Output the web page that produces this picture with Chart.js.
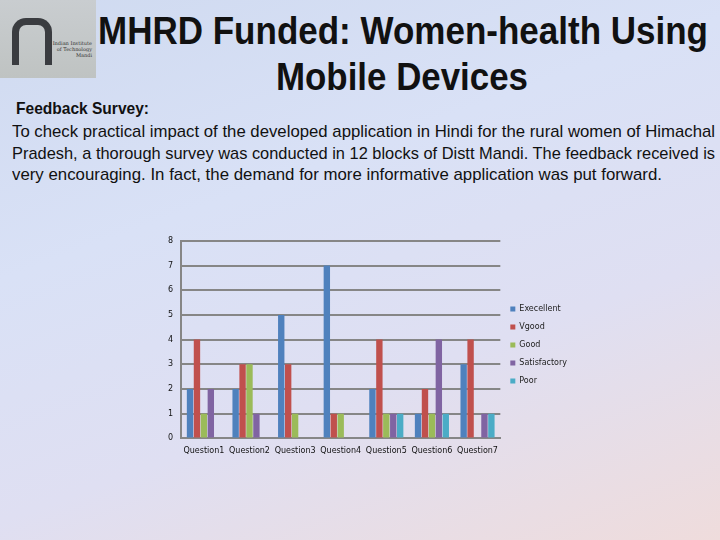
<!DOCTYPE html>
<html>
<head>
<meta charset="utf-8">
<script src="https://cdn.jsdelivr.net/npm/chart.js@4"></script>
<style>
  html, body { margin: 0; padding: 0; }
  body {
    width: 720px; height: 540px; overflow: hidden; position: relative;
    background: linear-gradient(160deg, #cfdaf0 0%, #d9e1f6 35%, #dfdff2 65%, #efdcdc 100%);
    font-family: "Liberation Sans", sans-serif;
  }
  #logo {
    position: absolute; left: 0; top: 0; width: 96px; height: 78px;
    background: linear-gradient(180deg, #c9cdd0, #bfc3c2);
  }
  #logo .arch {
    position: absolute; left: 12px; top: 18px; width: 26px; height: 40px;
    border: 7px solid #3a3c40; border-bottom: none; border-radius: 14px 14px 0 0;
  }
  #logo .txt {
    position: absolute; left: 52px; top: 40px; width: 40px; font-size: 5px; line-height: 6px;
    color: #333; text-align: right; font-family: "DejaVu Serif", serif;
  }
  .line { position: absolute; white-space: nowrap; transform-origin: 0 0; color: #111; }
  .title { font-weight: bold; font-size: 38px; }
  .body { font-size: 17px; }
  #wrap { position: absolute; left: 150px; top: 228px; width: 427px; height: 228px; }
</style>
</head>
<body>
<div id="logo"><div class="arch"></div><div class="txt">Indian Institute of Technology Mandi</div></div>
<span class="line title" data-x="98" data-y="10" data-w="610">MHRD Funded: Women-health Using</span>
<span class="line title" data-x="276" data-y="56" data-w="252">Mobile Devices</span>
<span class="line body" data-x="16" data-y="99" data-w="133" style="font-weight:bold">Feedback Survey:</span>
<span class="line body" data-x="12" data-y="122" data-w="703">To check practical impact of the developed application in Hindi for the rural women of Himachal</span>
<span class="line body" data-x="12" data-y="144" data-w="703">Pradesh, a thorough survey was conducted in 12 blocks of Distt Mandi. The feedback received is</span>
<span class="line body" data-x="12" data-y="165" data-w="650">very encouraging. In fact, the demand for more informative application was put forward.</span>
<div id="wrap"><canvas id="chart"></canvas></div>
<script>
// squeeze text lines to the narrow widths of the original slide font
document.querySelectorAll('.line').forEach(el => {
    el.style.left = el.dataset.x + 'px'
    el.style.top = el.dataset.y + 'px'
    const w = el.getBoundingClientRect().width
    el.style.transform = 'scaleX(' + (el.dataset.w / w) + ')'
})

const questions = ['Question1', 'Question2', 'Question3', 'Question4', 'Question5', 'Question6', 'Question7']
const excellent = [2, 2, 5, 7, 2, 1, 3]
const vgood = [4, 3, 3, 1, 4, 2, 4]
const good = [1, 3, 1, 1, 1, 1, 0]
const satisfactory = [2, 1, 0, 0, 1, 4, 1]
const poor = [0, 0, 0, 0, 1, 1, 1]

const tickFont = { family: '"DejaVu Sans", sans-serif', size: 8 }

new Chart(document.getElementById('chart'), {
    type: 'bar',
    data: {
        labels: questions,
        datasets: [
            { label: 'Execellent', data: excellent, backgroundColor: '#4F81BD' },
            { label: 'Vgood', data: vgood, backgroundColor: '#C0504D' },
            { label: 'Good', data: good, backgroundColor: '#9BBB59' },
            { label: 'Satisfactory', data: satisfactory, backgroundColor: '#8064A2' },
            { label: 'Poor', data: poor, backgroundColor: '#4BACC6' }
        ]
    },
    options: {
        responsive: true,
        maintainAspectRatio: false,
        animation: false,
        datasets: {
            bar: { categoryPercentage: 0.76, barPercentage: 0.92 }
        },
        layout: { padding: { top: 6, right: 0, bottom: 0, left: 10 } },
        plugins: {
            tooltip: { enabled: false },
            legend: {
                position: 'right',
                align: 'center',
                labels: {
                    boxWidth: 5,
                    boxHeight: 5,
                    padding: 10,
                    color: '#222',
                    font: tickFont
                }
            }
        },
        scales: {
            x: {
                grid: { display: false },
                border: { color: '#868686', width: 2 },
                ticks: { color: '#111', font: tickFont, maxRotation: 0, autoSkip: false, padding: 0 }
            },
            y: {
                min: 0,
                max: 8,
                ticks: { stepSize: 1, color: '#111', font: tickFont, padding: 8 },
                grid: { color: '#868686', lineWidth: 2, drawTicks: false },
                border: { display: true, color: '#868686', width: 2 }
            }
        }
    }
})
</script>
</body>
</html>
